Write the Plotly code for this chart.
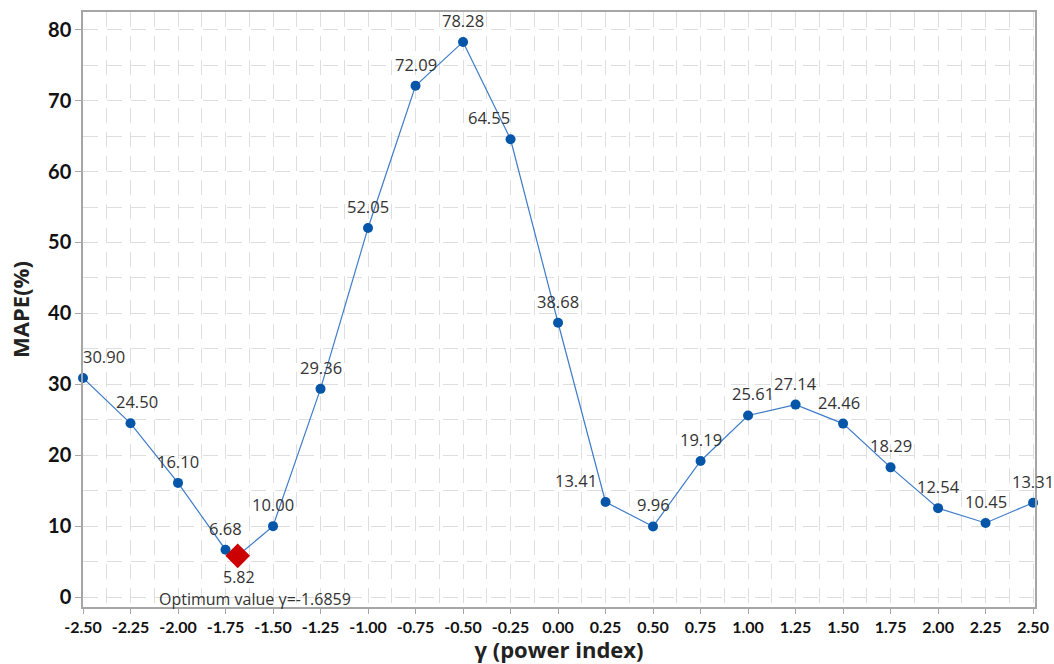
import plotly.graph_objects as go

# power index grid and the MAPE obtained at each value
gamma = [-2.50, -2.25, -2.00, -1.75, -1.50, -1.25, -1.00, -0.75, -0.50, -0.25,
         0.00, 0.25, 0.50, 0.75, 1.00, 1.25, 1.50, 1.75, 2.00, 2.25, 2.50]
mape = [30.90, 24.50, 16.10, 6.68, 10.00, 29.36, 52.05, 72.09, 78.28, 64.55,
        38.68, 13.41, 9.96, 19.19, 25.61, 27.14, 24.46, 18.29, 12.54, 10.45, 13.31]

# optimum found between grid points
opt_gamma = -1.6859
opt_mape = 5.82

x_ticks = [-2.50, -2.25, -2.00, -1.75, -1.50, -1.25, -1.00, -0.75, -0.50, -0.25,
           0.00, 0.25, 0.50, 0.75, 1.00, 1.25, 1.50, 1.75, 2.00, 2.25, 2.50]
y_ticks = [0, 10, 20, 30, 40, 50, 60, 70, 80]

FONT = "Open Sans"
TICK_FONT = "Lato"
# small horizontal nudges (px) so value labels clear the line
label_nudge = {0: 21, 1: 6, 9: -22, 11: -30, 14: 5, 16: -4}

# connecting line passes through the optimum
line_x, line_y = [], []
for gx, gy in zip(gamma, mape):
    if gx > opt_gamma and (not line_x or line_x[-1] < opt_gamma):
        line_x.append(opt_gamma)
        line_y.append(opt_mape)
    line_x.append(gx)
    line_y.append(gy)

fig = go.Figure()
fig.add_trace(go.Scatter(
    x=line_x, y=line_y, mode="lines",
    line=dict(color="#3f7cc9", width=1.2),
    hoverinfo="skip", showlegend=False, cliponaxis=False,
))
fig.add_trace(go.Scatter(
    x=gamma, y=mape, mode="markers",
    marker=dict(color="#0556a8", size=10),
    showlegend=False, cliponaxis=False,
))
fig.add_trace(go.Scatter(
    x=[opt_gamma], y=[opt_mape], mode="markers",
    marker=dict(color="#cc0000", size=19, symbol="diamond"),
    showlegend=False, cliponaxis=False,
))

label_font = dict(family=FONT, size=16.5, color="#333333")
annotations = []
for i, (gx, gy) in enumerate(zip(gamma, mape)):
    annotations.append(dict(
        x=gx, y=gy, xref="x", yref="y", text=f"{gy:.2f}", showarrow=False,
        yanchor="bottom", xanchor="center", yshift=8, xshift=label_nudge.get(i, 0),
        font=label_font,
    ))
annotations.append(dict(
    x=opt_gamma, y=opt_mape, xref="x", yref="y", text=f"{opt_mape:.2f}",
    showarrow=False, yanchor="top", xanchor="center", yshift=-9, xshift=1,
    borderpad=0, font=dict(family=FONT, size=16, color="#333333"),
))
annotations.append(dict(
    x=opt_gamma, y=opt_mape, xref="x", yref="y",
    text=f"Optimum value \u03b3={opt_gamma}",
    showarrow=False, yanchor="top", xanchor="center", yshift=-31, xshift=17,
    borderpad=0, font=dict(family=FONT, size=16, color="#333333"),
))

grid_style = dict(gridcolor="#dedede", gridwidth=1, griddash="15px,9px")

fig.update_layout(
    width=1054, height=664,
    margin=dict(l=83, r=19, t=12, b=57),
    paper_bgcolor="white", plot_bgcolor="white",
    annotations=annotations,
    xaxis=dict(
        range=[-2.5, 2.51], tickvals=x_ticks, ticktext=[f"{v:.2f}" for v in x_ticks],
        automargin=False,
        showline=True, linecolor="#a6a6a6", linewidth=1.5, mirror=True,
        ticks="outside", ticklen=5, tickcolor="#a6a6a6",
        tickfont=dict(family=TICK_FONT, size=16, color="#111111", weight="bold"),
        zeroline=False, showgrid=True, **grid_style,
        minor=dict(dtick=0.125, tick0=-2.5, showgrid=True, **grid_style),
        title=dict(text="\u03b3 (power index)", standoff=10,
                   font=dict(family=FONT, size=22, color="#222222", weight="bold")),
    ),
    yaxis=dict(
        range=[-1.4, 82.5], tickvals=y_ticks,
        automargin=False,
        showline=True, linecolor="#a6a6a6", linewidth=1.5, mirror=True,
        ticks="outside", ticklen=6, tickcolor="#a6a6a6",
        tickfont=dict(family=TICK_FONT, size=20, color="#111111", weight="bold"),
        zeroline=False, showgrid=True, **grid_style,
        minor=dict(dtick=5, tick0=0, showgrid=True, **grid_style),
        title=dict(text="MAPE(%)", standoff=12,
                   font=dict(family=FONT, size=22, color="#222222", weight="bold")),
    ),
)

fig.write_html("out.html")
